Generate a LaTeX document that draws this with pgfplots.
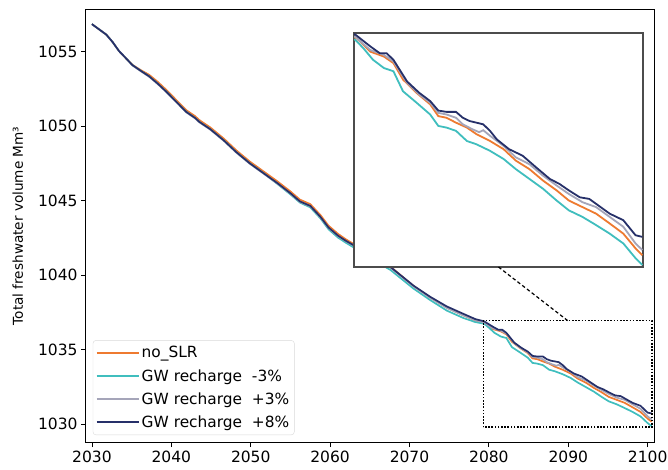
\documentclass[border=0pt]{standalone}
\usepackage{fontspec}
\setmainfont{DejaVu Sans}
\usepackage{pgfplots}
\pgfplotsset{compat=1.18}
\usepackage{pgfplotstable}
\usetikzlibrary{calc}
\definecolor{cOrange}{RGB}{238,122,48}
\definecolor{cTeal}{RGB}{64,190,190}
\definecolor{cGray}{RGB}{165,165,185}
\definecolor{cNavy}{RGB}{38,48,105}

\pgfplotstableread{
x y
2030.0 1056.85
2030.9 1056.50
2031.8 1056.15
2032.6 1055.65
2033.4 1055.05
2034.3 1054.55
2035.1 1054.12
2036.2 1053.75
2037.2 1053.45
2038.3 1052.97
2039.3 1052.47
2040.6 1051.77
2041.9 1051.07
2043.0 1050.67
2043.5 1050.42
2044.9 1049.92
2046.6 1049.17
2048.2 1048.37
2049.9 1047.62
2051.6 1046.97
2053.3 1046.32
2055.0 1045.62
2056.2 1045.07
2057.5 1044.77
2058.8 1044.02
2059.8 1043.32
2061.0 1042.77
2062.0 1042.40
2063.0 1042.08
2065.0 1041.40
2067.6 1040.57
2070.5 1039.28
2072.6 1038.50
2074.7 1037.82
2076.8 1037.30
2078.3 1036.96
2079.5 1036.79
2080.5 1036.38
2081.5 1036.23
2082.2 1036.03
2082.9 1035.53
2083.9 1035.12
2084.9 1034.77
2085.5 1034.41
2086.1 1034.36
2086.8 1034.21
2087.6 1034.06
2088.3 1033.86
2089.3 1033.65
2090.3 1033.40
2091.2 1033.05
2092.2 1032.79
2093.2 1032.44
2094.2 1032.14
2095.1 1031.83
2096.1 1031.63
2097.1 1031.43
2098.1 1031.13
2099.1 1030.82
2100.0 1030.37
2100.5 1030.16
}\dataOrange

\pgfplotstableread{
x y
2030.0 1056.85
2030.9 1056.50
2031.8 1056.15
2032.6 1055.65
2033.4 1055.05
2034.3 1054.55
2035.1 1054.10
2036.2 1053.70
2037.2 1053.35
2038.3 1052.85
2039.3 1052.35
2040.6 1051.65
2041.9 1050.95
2043.0 1050.55
2043.5 1050.30
2044.9 1049.80
2046.6 1049.05
2048.2 1048.25
2049.9 1047.50
2051.6 1046.85
2053.3 1046.15
2055.0 1045.42
2056.2 1044.87
2057.5 1044.55
2058.8 1043.80
2059.8 1043.08
2061.0 1042.52
2062.0 1042.17
2063.0 1041.85
2065.0 1041.15
2067.6 1040.35
2070.5 1039.10
2072.6 1038.33
2074.7 1037.62
2076.8 1037.12
2078.3 1036.85
2079.4 1036.74
2080.0 1036.48
2080.7 1036.13
2081.5 1035.88
2082.2 1035.78
2082.9 1035.17
2083.9 1034.82
2084.9 1034.46
2085.5 1034.11
2086.1 1034.06
2086.8 1033.96
2087.6 1033.65
2088.3 1033.55
2089.3 1033.35
2090.3 1033.10
2091.2 1032.79
2092.2 1032.49
2093.2 1032.19
2094.2 1031.83
2095.1 1031.53
2096.1 1031.33
2097.1 1031.08
2098.1 1030.82
2099.1 1030.52
2100.0 1030.07
2100.5 1029.86
}\dataTeal

\pgfplotstableread{
x y
2030.0 1056.85
2030.9 1056.50
2031.8 1056.15
2032.6 1055.65
2033.4 1055.05
2034.3 1054.55
2035.1 1054.08
2036.2 1053.67
2037.2 1053.32
2038.3 1052.82
2039.3 1052.32
2040.6 1051.62
2041.9 1050.92
2043.0 1050.52
2043.5 1050.27
2044.9 1049.77
2046.6 1049.02
2048.2 1048.22
2049.9 1047.47
2051.6 1046.82
2053.3 1046.17
2055.0 1045.47
2056.2 1044.92
2057.5 1044.62
2058.8 1043.87
2059.8 1043.17
2061.0 1042.62
2062.0 1042.27
2063.0 1041.97
2065.0 1041.30
2067.6 1040.50
2070.5 1039.25
2072.6 1038.48
2074.7 1037.80
2076.8 1037.30
2078.3 1036.97
2079.4 1036.83
2080.5 1036.43
2081.5 1036.28
2082.2 1036.08
2083.2 1035.43
2084.1 1035.07
2084.9 1034.82
2085.5 1034.51
2086.1 1034.46
2086.8 1034.36
2087.3 1034.16
2088.0 1034.01
2088.5 1033.92
2088.8 1033.98
2089.3 1033.81
2090.3 1033.50
2091.2 1033.15
2092.2 1032.94
2093.2 1032.59
2094.2 1032.29
2095.1 1032.03
2096.1 1031.78
2097.1 1031.63
2098.1 1031.33
2099.1 1031.03
2100.0 1030.52
2100.5 1030.32
}\dataGray

\pgfplotstableread{
x y
2030.0 1056.85
2030.9 1056.50
2031.8 1056.15
2032.6 1055.65
2033.4 1055.05
2034.3 1054.55
2035.1 1054.10
2036.2 1053.70
2037.2 1053.35
2038.3 1052.85
2039.3 1052.35
2040.6 1051.65
2041.9 1050.95
2043.0 1050.55
2043.5 1050.30
2044.9 1049.80
2046.6 1049.05
2048.2 1048.25
2049.9 1047.50
2051.6 1046.85
2053.3 1046.20
2055.0 1045.50
2056.2 1044.95
2057.5 1044.65
2058.8 1043.90
2059.8 1043.20
2061.0 1042.65
2062.0 1042.30
2063.0 1042.00
2065.0 1041.35
2067.6 1040.55
2070.5 1039.30
2072.6 1038.55
2074.7 1037.90
2076.8 1037.40
2078.3 1037.05
2079.4 1036.90
2080.5 1036.54
2081.2 1036.33
2081.7 1036.33
2082.2 1036.13
2083.2 1035.47
2084.1 1035.12
2084.9 1034.87
2085.5 1034.58
2086.1 1034.54
2086.8 1034.54
2087.3 1034.36
2087.8 1034.26
2088.3 1034.21
2088.8 1034.16
2089.3 1033.96
2089.8 1033.70
2090.7 1033.40
2091.7 1033.20
2092.7 1032.84
2093.7 1032.49
2094.4 1032.34
2095.1 1032.14
2095.9 1031.93
2096.6 1031.88
2097.1 1031.73
2098.1 1031.43
2099.1 1031.23
2100.0 1030.77
2100.5 1030.72
}\dataNavy

\begin{document}
\begin{tikzpicture}[font=\fontsize{15.4bp}{18bp}\selectfont]
\begin{axis}[
  name=main,
  width=568bp, height=432bp, scale only axis,
  xmin=2029.25, xmax=2100.8, ymin=1028.8, ymax=1057.8,
  xtick={2030,2040,...,2100}, ytick={1030,1035,...,1055},
  /pgf/number format/assume math mode=true,
  xticklabel style={/pgf/number format/1000 sep={}},
  yticklabel style={/pgf/number format/1000 sep={}},
  tick label style={font=\fontsize{15.5bp}{18bp}\selectfont},
  tick pos=left, tick align=outside, major tick length=5bp,
  tick style={black, line width=0.9bp},
  axis line style={black, line width=1bp},
  ylabel={Total freshwater volume Mm³},
  ylabel style={font=\fontsize{13.6bp}{16bp}\selectfont, yshift=8bp},
  legend style={at={(0.012,0.016)}, anchor=south west, draw=black!15,
    rounded corners=3bp, fill=white, fill opacity=0.85, text opacity=1,
    inner xsep=3bp, inner ysep=4bp, row sep=6bp,
    font=\fontsize{15.4bp}{18bp}\selectfont},
  legend cell align=left,
  legend image code/.code={\draw[#1] (0bp,0bp) -- (32bp,0bp); \path (0bp,0bp) -- (42bp,0bp);},
  every axis plot/.append style={line width=1.7bp},
]
\addplot[cOrange] table {\dataOrange}; \addlegendentry{no\_SLR}
\addplot[cTeal] table {\dataTeal}; \addlegendentry{GW recharge\ \ -3\%}
\addplot[cGray] table {\dataGray}; \addlegendentry{GW recharge\ \ +3\%}
\addplot[cNavy] table {\dataNavy}; \addlegendentry{GW recharge\ \ +8\%}
\draw[black, line width=1.6bp, dash pattern=on 1.6bp off 1.6bp] (axis cs:2079.3,1029.8) rectangle (axis cs:2100.55,1036.95);
\coordinate (rtop) at (axis cs:2089.92,1036.95);
\end{axis}
\begin{axis}[
  name=inset,
  at={($(main.south west)+(268bp,175bp)$)}, anchor=south west,
  width=289bp, height=234bp, scale only axis,
  xmin=2079.3, xmax=2100.55, ymin=1029.8, ymax=1036.95,
  xtick=\empty, ytick=\empty,
  axis background/.style={fill=white},
  axis line style={draw=black!70, line width=1.2bp},
  every axis plot/.append style={line width=1.8bp},
]
\addplot[cOrange] table {\dataOrange};
\addplot[cTeal] table {\dataTeal};
\addplot[cGray] table {\dataGray};
\addplot[cNavy] table {\dataNavy};
\end{axis}
\draw[black, line width=1.2bp, dash pattern=on 3.5bp off 2.5bp] (rtop) -- (inset.south);
\pgfresetboundingbox
\useasboundingbox ($(main.south west)+(-86bp,-28bp)$) rectangle ($(main.north east)+(14bp,10bp)$);
\end{tikzpicture}
\end{document}
